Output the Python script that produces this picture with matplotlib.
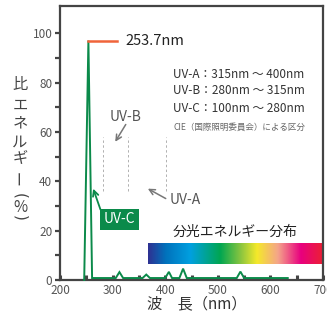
import matplotlib
matplotlib.use("Agg")
import matplotlib.pyplot as plt
import numpy as np
from matplotlib.colors import LinearSegmentedColormap

plt.rcParams['font.family'] = ['Noto Sans CJK JP', 'DejaVu Sans']

# Data
wavelength = [246, 254, 261, 306, 313, 320, 357, 364, 371, 400, 407, 413, 427, 434, 441, 536, 543, 550, 633]
energy = [0, 97, 0.8, 0.8, 3.2, 0.8, 0.8, 2.2, 0.8, 0.8, 3.3, 0.8, 0.8, 4.6, 0.8, 0.8, 3.4, 0.8, 0.8]
peak_label = "253.7nm"
peak_x = [254, 308]
peak_y = 97
uv_bounds = [282, 329, 401]
uv_bound_y = [36, 58]
xticks = [200, 300, 400, 500, 600, 700]
xminor = [250, 350, 450, 550, 650]
yticks = [0, 20, 40, 60, 80, 100]
yminor = [10, 30, 50, 70, 90]
uv_ranges = ["UV-A：315nm ～ 400nm", "UV-B：280nm ～ 315nm", "UV-C：100nm ～ 280nm"]
cie_note = "CIE（国際照明委員会）による区分"
spec_colors = [(0.0, '#2e3192'), (0.10, '#0072bc'), (0.24, '#00a0e0'), (0.41, '#00a651'),
               (0.53, '#8dc63f'), (0.62, '#f5e92a'), (0.74, '#f4a48a'), (0.87, '#e8007f'),
               (1.0, '#ec2131')]

W, H = 327, 322
fig = plt.figure(figsize=(W / 100, H / 100), dpi=100)
ax = fig.add_axes([60 / W, 1 - 280 / H, 263 / W, 274 / H])
ax.set_xlim(200, 700)
ax.set_ylim(0, 111)

green = '#0b8a4a'
dark = '#444444'
gray = '#555555'

ax.plot(wavelength, energy, color=green, lw=1.4, solid_joinstyle='miter', zorder=3, clip_on=False)
ax.plot(peak_x, [peak_y, peak_y], color='#f0643a', lw=1.8, zorder=4)
ax.text(324, peak_y, peak_label, fontsize=10.5, color='#222222', va='center', ha='left')

for xb in uv_bounds:
    ax.plot([xb, xb], uv_bound_y, color='#b0b0b0', lw=0.7, ls=(0, (2.5, 2.5)))

ax.text(324, 66, "UV-B", fontsize=10, color=gray, ha='center', va='center')
ax.annotate("", xy=(305, 56), xytext=(325, 63),
            arrowprops=dict(arrowstyle='->', color='#777777', lw=1.1, shrinkA=0, shrinkB=0))
ax.text(409, 32.4, "UV-A", fontsize=10, color=gray, ha='left', va='center')
ax.annotate("", xy=(367, 37), xytext=(401, 33),
            arrowprops=dict(arrowstyle='->', color='#777777', lw=1.1, shrinkA=0, shrinkB=0))
ax.annotate("", xy=(263, 37), xytext=(277, 28.5),
            arrowprops=dict(arrowstyle='->', color=green, lw=1.3, shrinkA=0, shrinkB=0))
ax.text(313, 24.6, "UV-C", fontsize=10, color='white', ha='center', va='center',
        bbox=dict(boxstyle='square,pad=0.25', fc=green, ec='none'))

block = []
for i, s in enumerate(uv_ranges):
    block.append(ax.text(415, [83.4, 76.6, 69.6][i], s, fontsize=8.5, color='#333333',
                         ha='left', va='center'))
note = ax.text(415, 62, cie_note, fontsize=6.5, color='#666666', ha='left', va='center')

ax.text(533, 19.4, "分光エネルギー分布", fontsize=10, color='#222222', ha='center', va='center')
cmap = LinearSegmentedColormap.from_list('spec', spec_colors)
grad = np.linspace(0, 1, 512)[None, :]
ax.imshow(grad, cmap=cmap, aspect='auto', extent=(367, 700, 6.6, 15), zorder=2)
ax.set_xlim(200, 700)
ax.set_ylim(0, 111)

for sp in ax.spines.values():
    sp.set_color(dark)
    sp.set_linewidth(1.6)

ax.set_xticks(xticks)
ax.set_xticks(xminor, minor=True)
ax.set_yticks(yticks)
ax.set_yticks(yminor, minor=True)
ax.tick_params(axis='x', which='both', direction='in', length=3.5, width=2.2, color=dark,
               labelsize=8.5, labelcolor=gray, pad=3)
ax.tick_params(axis='y', which='both', direction='out', length=3.5, width=1.6, color=dark,
               labelsize=8.5, labelcolor=gray, pad=2)

# fit the range block to the reference width (about 134 px)
fig.canvas.draw()
r = fig.canvas.get_renderer()
wmax = max(t.get_window_extent(r).width for t in block)
if wmax > 134:
    for t in block:
        t.set_fontsize(8.5 * 134 / wmax)
wn = note.get_window_extent(r).width
if wn > 132:
    note.set_fontsize(6.5 * 132 / wn)

# x label
fig.text(197 / W, 1 - 304 / H, "波　長（nm）", fontsize=11, color='#333333', ha='center', va='center')

# vertical y label
chars = [("比", 85, 0, None), ("エ", 105, 0, None), ("ネ", 123, 0, None), ("ル", 142, 0, None),
         ("ギ", 158, 0, None), ("ー", 177, 90, None), ("(", 196, -90, 'DejaVu Sans'),
         ("%", 207, 0, None), (")", 218, -90, 'DejaVu Sans')]
for c, py, rot, fam in chars:
    kw = {} if fam is None else {'family': fam}
    fig.text(20 / W, 1 - py / H, c, fontsize=11, color='#444444', ha='center', va='center',
             rotation=rot, rotation_mode='anchor', **kw)

fig.savefig("out.png", dpi=100)
